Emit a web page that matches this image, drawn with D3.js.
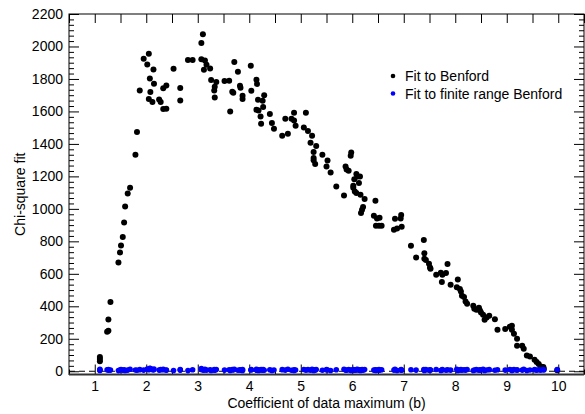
<!DOCTYPE html>
<html>
<head>
<meta charset="utf-8">
<script src="https://cdn.jsdelivr.net/npm/d3@7"></script>
<style>
  body { margin: 0; background: #fff; }
  svg { display: block; }
  text { font-family: "Liberation Sans", Arial, Helvetica, sans-serif; font-size: 14px; fill: #000; }
</style>
</head>
<body>
<svg width="585" height="414"></svg>
<script>
// coefficient of data maximum (b) for each sample
var coef = [
  1.10,1.10,1.10,1.24,1.265,1.265,1.305,1.46,1.49,1.51,
  1.544,1.57,1.59,1.64,1.686,1.79,1.82,1.874,1.95,2.02,
  2.05,2.05,2.07,2.08,2.12,2.14,2.15,2.25,2.28,2.33,
  2.33,2.39,2.39,2.53,2.66,2.66,2.81,2.90,3.07,3.07,
  3.10,3.12,3.14,3.17,3.24,3.26,3.32,3.33,3.33,3.36,
  3.52,3.61,3.63,3.67,3.69,3.71,3.78,3.82,3.83,3.87,
  3.87,4.03,4.04,4.14,4.14,4.15,4.17,4.18,4.22,4.23,
  4.26,4.27,4.29,4.40,4.44,4.48,4.64,4.70,4.75,4.82,
  4.87,4.87,4.90,5.06,5.10,5.14,5.19,5.22,5.25,5.25,
  5.25,5.28,5.30,5.42,5.50,5.52,5.58,5.69,5.84,5.87,
  5.89,5.93,5.97,5.98,6.02,6.02,6.04,6.05,6.08,6.08,
  6.10,6.13,6.15,6.16,6.17,6.19,6.21,6.24,6.42,6.45,
  6.46,6.48,6.52,6.53,6.57,6.81,6.83,6.87,6.94,6.95,
  6.96,7.14,7.24,7.39,7.40,7.40,7.43,7.49,7.51,7.52,
  7.63,7.72,7.74,7.75,7.82,7.85,7.91,8.03,8.05,8.09,
  8.11,8.13,8.17,8.20,8.23,8.35,8.37,8.41,8.46,8.48,
  8.50,8.54,8.57,8.61,8.66,8.77,8.82,8.97,9.06,9.10,
  9.10,9.14,9.20,9.20,9.30,9.33,9.39,9.45,9.54,9.58,
  9.62,9.66,9.71,9.72,9.98
];

// chi-square of fit to Benford
var fitBenford = [
  88,75,62,243,249,319,426,670,732,775,
  826,916,1015,1095,1130,1333,1473,1729,1924,1889,
  1955,1676,1803,1719,1658,1858,1770,1674,1658,1742,
  1615,1760,1617,1863,1744,1668,1916,1916,2021,1922,
  2076,1857,1914,1887,1865,1793,1729,1752,1686,1781,
  1787,1789,1600,1721,1715,1905,1844,1758,1746,1697,
  1676,1881,1727,1795,1611,1769,1672,1606,1569,1524,
  1666,1627,1699,1584,1528,1493,1450,1555,1463,1555,
  1592,1544,1512,1501,1592,1479,1407,1450,1350,1313,
  1300,1276,1387,1333,1261,1298,1224,1138,1083,1261,
  1243,1235,1327,1347,1142,1130,1183,1107,1214,1097,
  1200,1159,1200,1087,974,994,1011,1060,957,1050,
  896,941,896,945,896,871,939,879,941,962,
  890,773,701,808,726,693,685,662,639,631,
  594,607,549,594,605,660,533,518,565,506,
  491,465,457,430,416,403,385,379,391,374,
  362,348,317,331,342,321,256,260,274,280,
  256,231,200,157,157,139,97,91,71,57,
  44,30,26,15,6
];

// chi-square of fit to finite range Benford
var fitFinite = [
  12,8,5,9,6,11,7,4,8,10,
  6,9,5,7,12,8,6,10,7,14,
  9,12,18,16,11,8,13,7,10,9,
  12,6,8,5,10,7,4,9,11,16,
  8,6,12,7,9,5,10,8,6,11,
  7,9,5,10,8,12,6,9,7,11,
  5,8,10,7,12,6,9,5,8,10,
  7,11,6,9,5,8,10,7,12,6,
  9,5,8,11,7,10,6,12,8,5,
  9,7,11,6,10,8,5,9,12,7,
  6,10,8,5,11,7,9,6,10,8,
  12,7,9,5,8,10,6,11,7,9,
  5,8,10,6,9,7,12,5,8,10,
  6,9,7,11,5,8,10,6,9,7,
  11,5,8,10,6,9,7,12,5,8,
  10,6,9,7,11,5,8,10,6,9,
  7,12,5,8,10,6,9,7,11,5,
  8,10,6,9,7,12,5,8,10,6,
  9,7,11,8,10
];

var xTicks = [1,2,3,4,5,6,7,8,9,10];
var yTicks = [0,200,400,600,800,1000,1200,1400,1600,1800,2000,2200];
var legendLabels = ["Fit to Benford", "Fit to finite range Benford"];

// plot box (named so they don't clash with window.top)
var plotLeft = 69, plotRight = 584, plotTop = 14, plotBottom = 374.5;

var x = d3.scaleLinear().domain([0.5, 10.5]).range([plotLeft, plotRight]);
var y = d3.scaleLinear().domain([-20, 2200]).range([plotBottom, plotTop]);

var svg = d3.select("svg");

// minor tick positions
var xMinor = [0.5,1.5,2.5,3.5,4.5,5.5,6.5,7.5,8.5,9.5,10.5];
var yMinor = [];
yTicks.forEach(function(t) {
  for (var k = 1; k < 6; k++) {
    var v = t + k * 200 / 6;
    if (v < 2200) yMinor.push(v);
  }
});

function strip(g) { g.select(".domain").remove(); g.selectAll("line").attr("stroke", "#000"); }

// bottom axis
svg.append("g")
  .attr("transform", "translate(0," + plotBottom + ")")
  .call(d3.axisBottom(x).tickValues(xTicks).tickSize(-10).tickPadding(7).tickFormat(d3.format("d")))
  .call(strip)
  .attr("font-family", null).attr("font-size", null);
svg.append("g")
  .attr("transform", "translate(0," + plotBottom + ")")
  .call(d3.axisBottom(x).tickValues(xMinor).tickSize(-5).tickFormat(""))
  .call(strip);

// top axis
svg.append("g")
  .attr("transform", "translate(0," + plotTop + ")")
  .call(d3.axisTop(x).tickValues(xTicks.concat(xMinor)).tickSize(-9).tickFormat(""))
  .call(strip);

// left axis
svg.append("g")
  .attr("transform", "translate(" + plotLeft + ",0)")
  .call(d3.axisLeft(y).tickValues(yTicks).tickSize(-10).tickPadding(6).tickFormat(d3.format("d")))
  .call(strip)
  .attr("font-family", null).attr("font-size", null);
svg.append("g")
  .attr("transform", "translate(" + plotLeft + ",0)")
  .call(d3.axisLeft(y).tickValues(yMinor).tickSize(-5).tickFormat(""))
  .call(strip);

// right axis
svg.append("g")
  .attr("transform", "translate(" + plotRight + ",0)")
  .call(d3.axisRight(y).tickValues(yTicks).tickSize(-10).tickFormat(""))
  .call(strip);
svg.append("g")
  .attr("transform", "translate(" + plotRight + ",0)")
  .call(d3.axisRight(y).tickValues(yMinor).tickSize(-5).tickFormat(""))
  .call(strip);

// frame
svg.append("rect")
  .attr("x", plotLeft).attr("y", plotTop)
  .attr("width", plotRight - plotLeft).attr("height", plotBottom - plotTop)
  .attr("fill", "none").attr("stroke", "#000").attr("stroke-width", 1);
// bottom edge is a bit heavier in the original
svg.append("line")
  .attr("x1", plotLeft).attr("x2", plotRight)
  .attr("y1", plotBottom).attr("y2", plotBottom)
  .attr("stroke", "#333").attr("stroke-width", 1.8);

// zero line
svg.append("line")
  .attr("x1", plotLeft).attr("x2", plotRight)
  .attr("y1", y(0)).attr("y2", y(0))
  .attr("stroke", "#000").attr("stroke-width", 1)
  .attr("stroke-dasharray", "6,4");

// Benford fit points
svg.append("g").selectAll("circle")
  .data(coef)
  .enter().append("circle")
  .attr("cx", function(d) { return x(d); })
  .attr("cy", function(d, i) { return y(fitBenford[i]); })
  .attr("r", 3)
  .attr("fill", "#000");

// finite range Benford points
svg.append("g").selectAll("circle")
  .data(coef)
  .enter().append("circle")
  .attr("cx", function(d) { return x(d); })
  .attr("cy", function(d, i) { return y(fitFinite[i]); })
  .attr("r", 2.8)
  .attr("fill", "#0000ff");

// axis titles
svg.append("text")
  .attr("x", (plotLeft + plotRight) / 2).attr("y", 408)
  .attr("text-anchor", "middle")
  .text("Coefficient of data maximum (b)");

svg.append("text")
  .attr("transform", "translate(25," + (plotTop + plotBottom) / 2 + ") rotate(-90)")
  .attr("text-anchor", "middle")
  .text("Chi-square fit");

// legend
var legendColors = ["#000", "#0000ff"];
var legend = svg.append("g");
legendLabels.forEach(function(lab, i) {
  legend.append("circle")
    .attr("cx", 393).attr("cy", 76 + i * 17.5)
    .attr("r", 2.3).attr("fill", legendColors[i]);
  legend.append("text")
    .attr("x", 405).attr("y", 81 + i * 17.5)
    .text(lab);
});
</script>
</body>
</html>
